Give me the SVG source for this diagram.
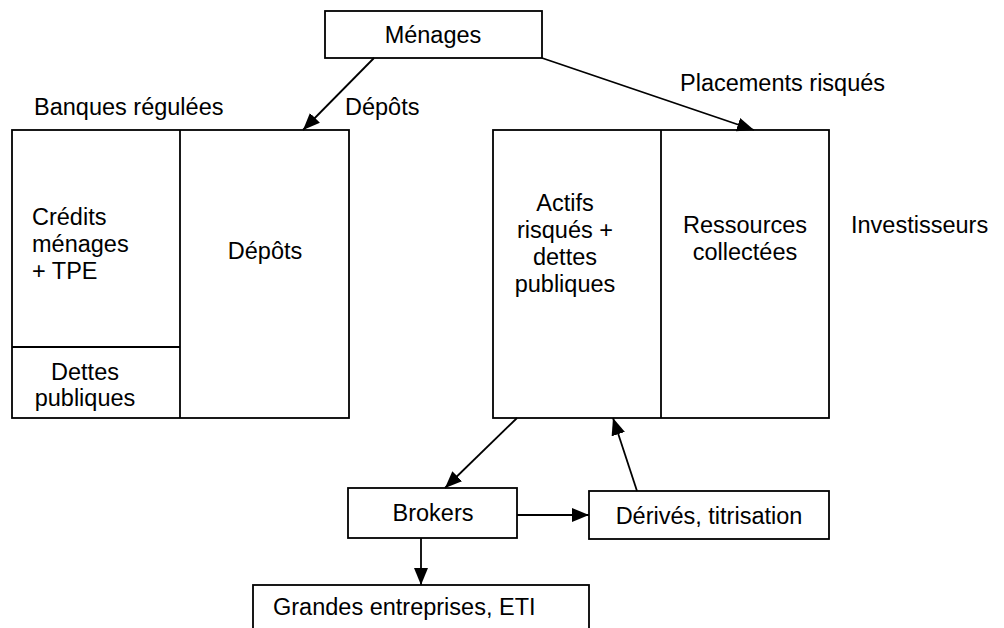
<svg xmlns="http://www.w3.org/2000/svg" width="1004" height="628" viewBox="0 0 1004 628">
<style>
  .box { fill: #fff; stroke: #000; stroke-width: 1.8; }
  .ln { stroke: #000; stroke-width: 1.8; fill: none; }
  .t { font-family: "Liberation Sans", Arial, sans-serif; font-size: 23.5px; fill: #000; }
  .m { text-anchor: middle; }
  .conn line { stroke: #000; stroke-width: 1.8; marker-end: url(#arr); }
</style>
<defs>
  <marker id="arr" markerUnits="userSpaceOnUse" markerWidth="18" markerHeight="16" viewBox="0 0 18 16" refX="17" refY="8" orient="auto">
    <path d="M0,1 L17,8 L0,15 Z" fill="#000"/>
  </marker>
</defs>
<rect width="1004" height="628" fill="#fff"/>

<g id="menages">
  <rect class="box" x="325" y="11" width="217" height="47"/>
  <text class="t m" x="433" y="43">Ménages</text>
</g>

<g id="labels">
  <text class="t" x="34" y="115">Banques régulées</text>
  <text class="t" x="345" y="115">Dépôts</text>
  <text class="t" x="680" y="91">Placements risqués</text>
  <text class="t" x="851" y="233">Investisseurs</text>
</g>

<g id="banques">
  <rect class="box" x="12" y="130" width="337" height="288"/>
  <line class="ln" x1="180" y1="130" x2="180" y2="418"/>
  <line class="ln" x1="12" y1="347" x2="180" y2="347"/>
  <text class="t" x="32" y="225">Crédits</text>
  <text class="t" x="32" y="252">ménages</text>
  <text class="t" x="32" y="279">+ TPE</text>
  <text class="t m" x="85" y="380">Dettes</text>
  <text class="t m" x="85" y="406">publiques</text>
  <text class="t m" x="265" y="259">Dépôts</text>
</g>

<g id="investisseurs">
  <rect class="box" x="493" y="130" width="336" height="288"/>
  <line class="ln" x1="661" y1="130" x2="661" y2="418"/>
  <text class="t m" x="565" y="211">Actifs</text>
  <text class="t m" x="565" y="238">risqués +</text>
  <text class="t m" x="565" y="265">dettes</text>
  <text class="t m" x="565" y="292">publiques</text>
  <text class="t m" x="745" y="233">Ressources</text>
  <text class="t m" x="745" y="260">collectées</text>
</g>

<g id="brokers">
  <rect class="box" x="348" y="488" width="169" height="50"/>
  <text class="t m" x="433" y="521">Brokers</text>
</g>

<g id="derives">
  <rect class="box" x="589" y="491" width="240" height="48"/>
  <text class="t m" x="709" y="524">Dérivés, titrisation</text>
</g>

<g id="grandes">
  <rect class="box" x="253" y="585" width="336" height="60"/>
  <text class="t" x="273" y="615">Grandes entreprises, ETI</text>
</g>

<g id="connectors" class="conn">
  <line x1="374" y1="58" x2="303" y2="130"/>
  <line x1="542" y1="58" x2="754" y2="130"/>
  <line x1="517" y1="418" x2="445" y2="488"/>
  <line x1="637" y1="491" x2="613" y2="418"/>
  <line x1="517" y1="515" x2="589" y2="515"/>
  <line x1="421" y1="538" x2="421" y2="585"/>
</g>
</svg>
